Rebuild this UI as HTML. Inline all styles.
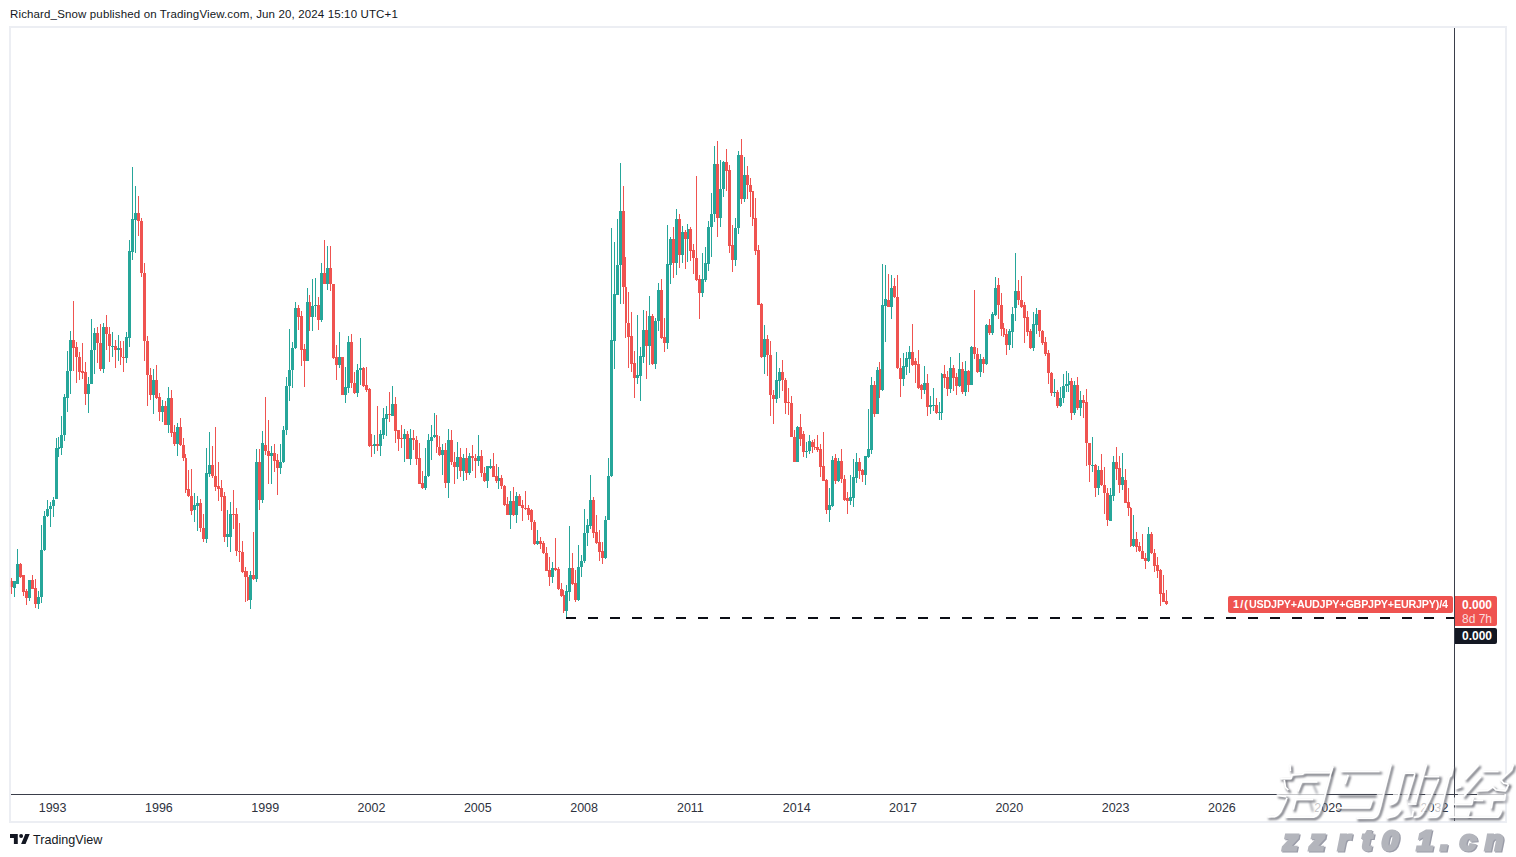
<!DOCTYPE html>
<html><head><meta charset="utf-8"><title>chart</title>
<style>
html,body{margin:0;padding:0;background:#fff;}
body{width:1516px;height:857px;position:relative;overflow:hidden;font-family:"Liberation Sans",sans-serif;color:#131722;}
#hdr{position:absolute;left:10px;top:7px;font-size:11.5px;line-height:14px;white-space:nowrap;color:#131722;letter-spacing:0.14px;}
#frame{position:absolute;left:9px;top:26px;width:1494px;height:793px;border:2px solid rgba(231,234,240,0.8);box-sizing:content-box;}
#vax{position:absolute;left:1453.5px;top:28px;width:1px;height:793px;background:#3a3e4a;}
#hax{position:absolute;left:11px;top:793.8px;width:1494px;height:1px;background:#3a3e4a;}
.yl{position:absolute;top:801px;width:40px;text-align:center;font-size:12.5px;line-height:15px;color:#2e323d;}
#chart{position:absolute;left:0;top:0;}
#tv{position:absolute;left:33px;top:832px;font-size:12.6px;line-height:16px;color:#131722;}
.lab{position:absolute;color:#fff;font-size:11px;line-height:13px;white-space:nowrap;}
</style></head><body>
<div id="hdr">Richard_Snow published on TradingView.com, Jun 20, 2024 15:10 UTC+1</div>
<svg id="chart" width="1516" height="857" viewBox="0 0 1516 857" shape-rendering="crispEdges">
<g style="filter:blur(0.3px)"><rect x="11.00" y="578.2" width="1" height="15.6" fill="#ef5350"/>
<rect x="14.00" y="581.9" width="1" height="14.7" fill="#26a69a"/>
<rect x="17.00" y="549.2" width="1" height="34.8" fill="#26a69a"/>
<rect x="20.00" y="562.9" width="1" height="14.8" fill="#ef5350"/>
<rect x="23.00" y="574.5" width="1" height="21.1" fill="#ef5350"/>
<rect x="26.00" y="589.3" width="1" height="15.4" fill="#ef5350"/>
<rect x="29.00" y="579.8" width="1" height="21.5" fill="#26a69a"/>
<rect x="32.00" y="574.9" width="1" height="14.4" fill="#ef5350"/>
<rect x="35.00" y="579.3" width="1" height="28.3" fill="#ef5350"/>
<rect x="38.00" y="591.4" width="1" height="17.3" fill="#26a69a"/>
<rect x="41.00" y="525.3" width="1" height="77.7" fill="#26a69a"/>
<rect x="44.00" y="511.2" width="1" height="40.1" fill="#26a69a"/>
<rect x="47.00" y="500.2" width="1" height="16.7" fill="#26a69a"/>
<rect x="50.00" y="501.7" width="1" height="24.9" fill="#26a69a"/>
<rect x="53.00" y="497.0" width="1" height="19.9" fill="#26a69a"/>
<rect x="56.00" y="438.3" width="1" height="60.2" fill="#26a69a"/>
<rect x="58.00" y="437.2" width="1" height="20.1" fill="#26a69a"/>
<rect x="61.00" y="416.1" width="1" height="39.0" fill="#26a69a"/>
<rect x="64.00" y="394.4" width="1" height="47.0" fill="#26a69a"/>
<rect x="67.00" y="350.7" width="1" height="61.2" fill="#26a69a"/>
<rect x="70.00" y="331.2" width="1" height="62.7" fill="#26a69a"/>
<rect x="73.00" y="301.0" width="1" height="69.7" fill="#ef5350"/>
<rect x="76.00" y="342.2" width="1" height="40.5" fill="#ef5350"/>
<rect x="79.00" y="351.7" width="1" height="28.5" fill="#ef5350"/>
<rect x="82.00" y="343.3" width="1" height="35.9" fill="#ef5350"/>
<rect x="85.00" y="362.3" width="1" height="42.6" fill="#ef5350"/>
<rect x="88.00" y="377.0" width="1" height="35.9" fill="#26a69a"/>
<rect x="91.00" y="319.0" width="1" height="65.4" fill="#26a69a"/>
<rect x="94.00" y="327.9" width="1" height="46.0" fill="#26a69a"/>
<rect x="97.00" y="327.0" width="1" height="35.7" fill="#ef5350"/>
<rect x="100.00" y="324.3" width="1" height="46.4" fill="#ef5350"/>
<rect x="103.00" y="322.8" width="1" height="50.0" fill="#26a69a"/>
<rect x="106.00" y="314.8" width="1" height="34.8" fill="#ef5350"/>
<rect x="109.00" y="327.0" width="1" height="34.8" fill="#ef5350"/>
<rect x="112.00" y="332.1" width="1" height="24.5" fill="#26a69a"/>
<rect x="115.00" y="340.1" width="1" height="27.9" fill="#ef5350"/>
<rect x="118.00" y="334.8" width="1" height="26.4" fill="#26a69a"/>
<rect x="120.00" y="341.2" width="1" height="23.8" fill="#ef5350"/>
<rect x="123.00" y="341.2" width="1" height="30.6" fill="#ef5350"/>
<rect x="126.00" y="332.1" width="1" height="30.8" fill="#26a69a"/>
<rect x="129.00" y="239.8" width="1" height="107.1" fill="#26a69a"/>
<rect x="132.00" y="166.9" width="1" height="92.9" fill="#26a69a"/>
<rect x="135.00" y="185.9" width="1" height="66.9" fill="#26a69a"/>
<rect x="138.00" y="196.1" width="1" height="39.4" fill="#ef5350"/>
<rect x="141.00" y="218.2" width="1" height="58.5" fill="#ef5350"/>
<rect x="144.00" y="263.0" width="1" height="98.2" fill="#ef5350"/>
<rect x="147.00" y="335.9" width="1" height="70.1" fill="#ef5350"/>
<rect x="150.00" y="368.0" width="1" height="32.3" fill="#ef5350"/>
<rect x="153.00" y="369.2" width="1" height="44.8" fill="#26a69a"/>
<rect x="156.00" y="365.0" width="1" height="34.2" fill="#ef5350"/>
<rect x="159.00" y="392.9" width="1" height="27.8" fill="#ef5350"/>
<rect x="162.00" y="400.3" width="1" height="22.1" fill="#26a69a"/>
<rect x="165.00" y="400.9" width="1" height="24.1" fill="#ef5350"/>
<rect x="168.00" y="387.0" width="1" height="46.0" fill="#26a69a"/>
<rect x="171.00" y="390.3" width="1" height="46.9" fill="#ef5350"/>
<rect x="174.00" y="425.0" width="1" height="21.1" fill="#ef5350"/>
<rect x="177.00" y="423.1" width="1" height="32.7" fill="#26a69a"/>
<rect x="180.00" y="418.2" width="1" height="27.9" fill="#ef5350"/>
<rect x="183.00" y="438.3" width="1" height="22.5" fill="#ef5350"/>
<rect x="185.00" y="454.1" width="1" height="39.1" fill="#ef5350"/>
<rect x="188.00" y="470.0" width="1" height="27.4" fill="#ef5350"/>
<rect x="191.00" y="468.9" width="1" height="46.5" fill="#ef5350"/>
<rect x="194.00" y="493.2" width="1" height="28.5" fill="#26a69a"/>
<rect x="197.00" y="496.4" width="1" height="34.8" fill="#26a69a"/>
<rect x="200.00" y="498.5" width="1" height="33.8" fill="#ef5350"/>
<rect x="203.00" y="514.3" width="1" height="27.5" fill="#ef5350"/>
<rect x="206.00" y="447.8" width="1" height="95.0" fill="#26a69a"/>
<rect x="209.00" y="431.9" width="1" height="45.5" fill="#26a69a"/>
<rect x="212.00" y="445.6" width="1" height="32.8" fill="#ef5350"/>
<rect x="215.00" y="427.1" width="1" height="64.0" fill="#ef5350"/>
<rect x="218.00" y="461.5" width="1" height="39.1" fill="#ef5350"/>
<rect x="221.00" y="479.5" width="1" height="31.7" fill="#ef5350"/>
<rect x="224.00" y="492.2" width="1" height="49.6" fill="#ef5350"/>
<rect x="227.00" y="510.1" width="1" height="36.9" fill="#26a69a"/>
<rect x="230.00" y="501.7" width="1" height="50.6" fill="#26a69a"/>
<rect x="233.00" y="490.1" width="1" height="39.0" fill="#ef5350"/>
<rect x="236.00" y="508.0" width="1" height="47.5" fill="#ef5350"/>
<rect x="239.00" y="522.8" width="1" height="39.0" fill="#ef5350"/>
<rect x="242.00" y="541.3" width="1" height="32.1" fill="#ef5350"/>
<rect x="245.00" y="567.1" width="1" height="34.8" fill="#ef5350"/>
<rect x="247.00" y="571.3" width="1" height="29.6" fill="#ef5350"/>
<rect x="250.00" y="571.3" width="1" height="37.4" fill="#26a69a"/>
<rect x="253.00" y="531.8" width="1" height="48.0" fill="#ef5350"/>
<rect x="256.00" y="448.8" width="1" height="133.1" fill="#26a69a"/>
<rect x="259.00" y="449.2" width="1" height="60.5" fill="#ef5350"/>
<rect x="262.00" y="430.9" width="1" height="71.8" fill="#26a69a"/>
<rect x="265.00" y="397.1" width="1" height="58.0" fill="#ef5350"/>
<rect x="268.00" y="419.9" width="1" height="63.8" fill="#ef5350"/>
<rect x="271.00" y="445.6" width="1" height="38.1" fill="#26a69a"/>
<rect x="274.00" y="444.0" width="1" height="28.1" fill="#ef5350"/>
<rect x="277.00" y="454.1" width="1" height="40.8" fill="#ef5350"/>
<rect x="280.00" y="444.2" width="1" height="29.3" fill="#26a69a"/>
<rect x="283.00" y="426.2" width="1" height="36.3" fill="#26a69a"/>
<rect x="286.00" y="377.0" width="1" height="58.1" fill="#26a69a"/>
<rect x="289.00" y="329.1" width="1" height="72.2" fill="#26a69a"/>
<rect x="292.00" y="342.2" width="1" height="45.4" fill="#26a69a"/>
<rect x="295.00" y="302.1" width="1" height="46.4" fill="#26a69a"/>
<rect x="298.00" y="305.3" width="1" height="24.3" fill="#ef5350"/>
<rect x="301.00" y="310.8" width="1" height="54.9" fill="#ef5350"/>
<rect x="304.00" y="343.5" width="1" height="43.0" fill="#ef5350"/>
<rect x="307.00" y="288.2" width="1" height="72.6" fill="#26a69a"/>
<rect x="309.00" y="295.4" width="1" height="35.5" fill="#ef5350"/>
<rect x="312.00" y="279.2" width="1" height="51.7" fill="#26a69a"/>
<rect x="315.00" y="278.1" width="1" height="39.1" fill="#26a69a"/>
<rect x="318.00" y="297.1" width="1" height="32.7" fill="#ef5350"/>
<rect x="321.00" y="262.9" width="1" height="59.1" fill="#26a69a"/>
<rect x="324.00" y="240.1" width="1" height="44.3" fill="#ef5350"/>
<rect x="327.00" y="246.0" width="1" height="43.7" fill="#26a69a"/>
<rect x="330.00" y="246.0" width="1" height="44.8" fill="#ef5350"/>
<rect x="333.00" y="284.0" width="1" height="75.4" fill="#ef5350"/>
<rect x="336.00" y="345.2" width="1" height="34.9" fill="#ef5350"/>
<rect x="339.00" y="331.9" width="1" height="35.9" fill="#26a69a"/>
<rect x="342.00" y="356.9" width="1" height="37.6" fill="#ef5350"/>
<rect x="345.00" y="367.4" width="1" height="35.9" fill="#26a69a"/>
<rect x="348.00" y="336.1" width="1" height="56.7" fill="#26a69a"/>
<rect x="351.00" y="334.0" width="1" height="53.5" fill="#ef5350"/>
<rect x="354.00" y="371.7" width="1" height="22.1" fill="#ef5350"/>
<rect x="357.00" y="364.3" width="1" height="32.3" fill="#26a69a"/>
<rect x="360.00" y="338.3" width="1" height="47.1" fill="#26a69a"/>
<rect x="363.00" y="367.0" width="1" height="19.9" fill="#ef5350"/>
<rect x="366.00" y="367.0" width="1" height="24.7" fill="#ef5350"/>
<rect x="369.00" y="387.5" width="1" height="59.1" fill="#ef5350"/>
<rect x="371.00" y="433.9" width="1" height="22.6" fill="#ef5350"/>
<rect x="374.00" y="435.0" width="1" height="19.0" fill="#26a69a"/>
<rect x="377.00" y="406.1" width="1" height="44.7" fill="#ef5350"/>
<rect x="380.00" y="429.7" width="1" height="26.0" fill="#26a69a"/>
<rect x="383.00" y="408.0" width="1" height="30.8" fill="#26a69a"/>
<rect x="386.00" y="406.1" width="1" height="29.9" fill="#26a69a"/>
<rect x="389.00" y="392.3" width="1" height="29.6" fill="#ef5350"/>
<rect x="392.00" y="386.0" width="1" height="30.4" fill="#26a69a"/>
<rect x="395.00" y="397.0" width="1" height="45.8" fill="#ef5350"/>
<rect x="398.00" y="429.7" width="1" height="21.1" fill="#ef5350"/>
<rect x="401.00" y="425.1" width="1" height="22.6" fill="#ef5350"/>
<rect x="404.00" y="429.3" width="1" height="32.5" fill="#26a69a"/>
<rect x="407.00" y="431.4" width="1" height="27.9" fill="#ef5350"/>
<rect x="410.00" y="429.3" width="1" height="35.2" fill="#26a69a"/>
<rect x="413.00" y="430.1" width="1" height="19.7" fill="#ef5350"/>
<rect x="416.00" y="436.0" width="1" height="28.5" fill="#ef5350"/>
<rect x="419.00" y="442.8" width="1" height="41.2" fill="#ef5350"/>
<rect x="422.00" y="471.3" width="1" height="17.5" fill="#ef5350"/>
<rect x="425.00" y="447.7" width="1" height="42.2" fill="#26a69a"/>
<rect x="428.00" y="433.9" width="1" height="43.3" fill="#26a69a"/>
<rect x="431.00" y="425.1" width="1" height="34.8" fill="#26a69a"/>
<rect x="434.00" y="413.2" width="1" height="25.0" fill="#26a69a"/>
<rect x="436.00" y="414.9" width="1" height="38.0" fill="#ef5350"/>
<rect x="439.00" y="436.0" width="1" height="19.7" fill="#ef5350"/>
<rect x="442.00" y="444.1" width="1" height="31.0" fill="#26a69a"/>
<rect x="445.00" y="443.4" width="1" height="44.4" fill="#ef5350"/>
<rect x="448.00" y="429.3" width="1" height="68.4" fill="#26a69a"/>
<rect x="451.00" y="430.3" width="1" height="34.2" fill="#ef5350"/>
<rect x="454.00" y="451.9" width="1" height="32.1" fill="#ef5350"/>
<rect x="457.00" y="442.0" width="1" height="37.3" fill="#26a69a"/>
<rect x="460.00" y="448.3" width="1" height="28.9" fill="#ef5350"/>
<rect x="463.00" y="454.0" width="1" height="27.4" fill="#26a69a"/>
<rect x="466.00" y="448.3" width="1" height="32.1" fill="#ef5350"/>
<rect x="469.00" y="452.9" width="1" height="21.8" fill="#26a69a"/>
<rect x="472.00" y="445.1" width="1" height="26.2" fill="#ef5350"/>
<rect x="475.00" y="454.0" width="1" height="23.6" fill="#ef5350"/>
<rect x="478.00" y="435.0" width="1" height="31.2" fill="#26a69a"/>
<rect x="481.00" y="449.8" width="1" height="27.4" fill="#ef5350"/>
<rect x="484.00" y="466.6" width="1" height="15.2" fill="#ef5350"/>
<rect x="487.00" y="465.6" width="1" height="22.2" fill="#26a69a"/>
<rect x="490.00" y="459.3" width="1" height="9.9" fill="#26a69a"/>
<rect x="493.00" y="452.9" width="1" height="24.3" fill="#ef5350"/>
<rect x="496.00" y="463.5" width="1" height="19.0" fill="#ef5350"/>
<rect x="498.00" y="466.6" width="1" height="22.2" fill="#26a69a"/>
<rect x="501.00" y="475.3" width="1" height="13.3" fill="#ef5350"/>
<rect x="504.00" y="484.8" width="1" height="21.1" fill="#ef5350"/>
<rect x="507.00" y="497.4" width="1" height="18.0" fill="#ef5350"/>
<rect x="510.00" y="491.1" width="1" height="37.6" fill="#26a69a"/>
<rect x="513.00" y="486.9" width="1" height="29.5" fill="#ef5350"/>
<rect x="516.00" y="492.2" width="1" height="30.6" fill="#26a69a"/>
<rect x="519.00" y="494.3" width="1" height="12.0" fill="#ef5350"/>
<rect x="522.00" y="499.6" width="1" height="21.1" fill="#ef5350"/>
<rect x="525.00" y="491.1" width="1" height="19.0" fill="#ef5350"/>
<rect x="528.00" y="504.8" width="1" height="14.8" fill="#ef5350"/>
<rect x="531.00" y="509.1" width="1" height="21.1" fill="#ef5350"/>
<rect x="534.00" y="519.6" width="1" height="25.3" fill="#ef5350"/>
<rect x="537.00" y="530.2" width="1" height="14.7" fill="#26a69a"/>
<rect x="540.00" y="537.1" width="1" height="11.4" fill="#ef5350"/>
<rect x="543.00" y="540.7" width="1" height="13.3" fill="#ef5350"/>
<rect x="546.00" y="547.0" width="1" height="24.3" fill="#ef5350"/>
<rect x="549.00" y="556.5" width="1" height="29.2" fill="#ef5350"/>
<rect x="552.00" y="562.2" width="1" height="20.7" fill="#26a69a"/>
<rect x="555.00" y="538.0" width="1" height="33.3" fill="#ef5350"/>
<rect x="558.00" y="567.1" width="1" height="22.8" fill="#ef5350"/>
<rect x="561.00" y="582.9" width="1" height="13.7" fill="#ef5350"/>
<rect x="563.00" y="590.3" width="1" height="22.8" fill="#ef5350"/>
<rect x="566.00" y="585.0" width="1" height="32.8" fill="#26a69a"/>
<rect x="569.00" y="525.9" width="1" height="75.0" fill="#26a69a"/>
<rect x="572.00" y="553.0" width="1" height="32.0" fill="#ef5350"/>
<rect x="575.00" y="570.3" width="1" height="31.6" fill="#ef5350"/>
<rect x="578.00" y="544.9" width="1" height="56.0" fill="#26a69a"/>
<rect x="581.00" y="555.1" width="1" height="21.5" fill="#26a69a"/>
<rect x="584.00" y="509.1" width="1" height="53.8" fill="#26a69a"/>
<rect x="587.00" y="519.2" width="1" height="26.4" fill="#26a69a"/>
<rect x="590.00" y="475.3" width="1" height="53.8" fill="#26a69a"/>
<rect x="593.00" y="497.0" width="1" height="41.0" fill="#ef5350"/>
<rect x="596.00" y="515.4" width="1" height="28.1" fill="#ef5350"/>
<rect x="599.00" y="530.2" width="1" height="30.6" fill="#ef5350"/>
<rect x="602.00" y="541.8" width="1" height="22.1" fill="#ef5350"/>
<rect x="605.00" y="516.0" width="1" height="42.7" fill="#26a69a"/>
<rect x="608.00" y="458.3" width="1" height="61.9" fill="#26a69a"/>
<rect x="611.00" y="228.0" width="1" height="249.3" fill="#26a69a"/>
<rect x="614.00" y="242.2" width="1" height="126.5" fill="#26a69a"/>
<rect x="617.00" y="219.0" width="1" height="75.6" fill="#26a69a"/>
<rect x="620.00" y="162.7" width="1" height="141.0" fill="#26a69a"/>
<rect x="623.00" y="185.9" width="1" height="117.8" fill="#ef5350"/>
<rect x="625.00" y="257.0" width="1" height="80.8" fill="#ef5350"/>
<rect x="628.00" y="292.1" width="1" height="75.5" fill="#ef5350"/>
<rect x="631.00" y="312.2" width="1" height="59.6" fill="#ef5350"/>
<rect x="634.00" y="351.2" width="1" height="46.5" fill="#ef5350"/>
<rect x="637.00" y="315.0" width="1" height="69.4" fill="#26a69a"/>
<rect x="640.00" y="347.0" width="1" height="53.7" fill="#26a69a"/>
<rect x="643.00" y="310.1" width="1" height="52.7" fill="#26a69a"/>
<rect x="646.00" y="311.1" width="1" height="67.6" fill="#ef5350"/>
<rect x="649.00" y="296.0" width="1" height="69.0" fill="#26a69a"/>
<rect x="652.00" y="314.0" width="1" height="51.0" fill="#ef5350"/>
<rect x="655.00" y="318.0" width="1" height="50.7" fill="#26a69a"/>
<rect x="658.00" y="283.2" width="1" height="47.7" fill="#26a69a"/>
<rect x="661.00" y="279.0" width="1" height="59.6" fill="#ef5350"/>
<rect x="664.00" y="318.2" width="1" height="33.6" fill="#ef5350"/>
<rect x="667.00" y="225.0" width="1" height="124.1" fill="#26a69a"/>
<rect x="670.00" y="236.6" width="1" height="47.5" fill="#26a69a"/>
<rect x="673.00" y="227.1" width="1" height="50.7" fill="#ef5350"/>
<rect x="676.00" y="209.2" width="1" height="66.0" fill="#26a69a"/>
<rect x="679.00" y="214.0" width="1" height="54.3" fill="#ef5350"/>
<rect x="682.00" y="226.0" width="1" height="37.0" fill="#26a69a"/>
<rect x="685.00" y="230.3" width="1" height="38.6" fill="#ef5350"/>
<rect x="687.00" y="223.9" width="1" height="38.0" fill="#26a69a"/>
<rect x="690.00" y="227.1" width="1" height="33.8" fill="#ef5350"/>
<rect x="693.00" y="244.0" width="1" height="29.5" fill="#ef5350"/>
<rect x="696.00" y="176.0" width="1" height="104.9" fill="#ef5350"/>
<rect x="699.00" y="274.6" width="1" height="44.2" fill="#ef5350"/>
<rect x="702.00" y="253.1" width="1" height="43.8" fill="#26a69a"/>
<rect x="705.00" y="247.2" width="1" height="34.8" fill="#26a69a"/>
<rect x="708.00" y="221.2" width="1" height="50.2" fill="#26a69a"/>
<rect x="711.00" y="192.9" width="1" height="63.7" fill="#26a69a"/>
<rect x="714.00" y="145.8" width="1" height="76.0" fill="#26a69a"/>
<rect x="717.00" y="141.0" width="1" height="95.6" fill="#ef5350"/>
<rect x="720.00" y="160.0" width="1" height="67.1" fill="#26a69a"/>
<rect x="723.00" y="161.0" width="1" height="36.1" fill="#26a69a"/>
<rect x="726.00" y="149.0" width="1" height="42.2" fill="#ef5350"/>
<rect x="729.00" y="164.8" width="1" height="88.0" fill="#ef5350"/>
<rect x="732.00" y="225.0" width="1" height="46.8" fill="#ef5350"/>
<rect x="735.00" y="218.2" width="1" height="47.9" fill="#26a69a"/>
<rect x="738.00" y="150.7" width="1" height="83.2" fill="#26a69a"/>
<rect x="741.00" y="138.9" width="1" height="64.6" fill="#ef5350"/>
<rect x="744.00" y="157.0" width="1" height="44.8" fill="#26a69a"/>
<rect x="747.00" y="165.9" width="1" height="33.3" fill="#ef5350"/>
<rect x="750.00" y="178.1" width="1" height="38.4" fill="#ef5350"/>
<rect x="752.00" y="190.8" width="1" height="35.2" fill="#ef5350"/>
<rect x="755.00" y="198.0" width="1" height="56.5" fill="#ef5350"/>
<rect x="758.00" y="245.0" width="1" height="60.3" fill="#ef5350"/>
<rect x="761.00" y="302.5" width="1" height="55.5" fill="#ef5350"/>
<rect x="764.00" y="325.3" width="1" height="48.6" fill="#26a69a"/>
<rect x="767.00" y="334.8" width="1" height="41.2" fill="#ef5350"/>
<rect x="770.00" y="341.2" width="1" height="74.5" fill="#ef5350"/>
<rect x="773.00" y="390.3" width="1" height="33.2" fill="#ef5350"/>
<rect x="776.00" y="352.3" width="1" height="51.1" fill="#26a69a"/>
<rect x="779.00" y="368.0" width="1" height="30.2" fill="#26a69a"/>
<rect x="782.00" y="360.2" width="1" height="30.6" fill="#ef5350"/>
<rect x="785.00" y="378.1" width="1" height="35.7" fill="#ef5350"/>
<rect x="788.00" y="388.0" width="1" height="26.8" fill="#ef5350"/>
<rect x="791.00" y="395.8" width="1" height="41.6" fill="#ef5350"/>
<rect x="794.00" y="429.6" width="1" height="32.1" fill="#ef5350"/>
<rect x="797.00" y="426.0" width="1" height="35.7" fill="#26a69a"/>
<rect x="800.00" y="413.8" width="1" height="32.1" fill="#ef5350"/>
<rect x="803.00" y="430.7" width="1" height="26.3" fill="#ef5350"/>
<rect x="806.00" y="441.6" width="1" height="16.5" fill="#26a69a"/>
<rect x="809.00" y="434.9" width="1" height="19.0" fill="#26a69a"/>
<rect x="812.00" y="439.7" width="1" height="13.1" fill="#ef5350"/>
<rect x="814.00" y="439.1" width="1" height="11.2" fill="#ef5350"/>
<rect x="817.00" y="435.3" width="1" height="16.5" fill="#ef5350"/>
<rect x="820.00" y="444.4" width="1" height="32.7" fill="#ef5350"/>
<rect x="823.00" y="431.7" width="1" height="49.2" fill="#ef5350"/>
<rect x="826.00" y="478.8" width="1" height="35.2" fill="#ef5350"/>
<rect x="829.00" y="488.1" width="1" height="33.7" fill="#26a69a"/>
<rect x="832.00" y="456.0" width="1" height="50.6" fill="#26a69a"/>
<rect x="835.00" y="453.9" width="1" height="30.0" fill="#ef5350"/>
<rect x="838.00" y="458.1" width="1" height="24.3" fill="#26a69a"/>
<rect x="841.00" y="448.6" width="1" height="34.4" fill="#ef5350"/>
<rect x="844.00" y="475.0" width="1" height="25.7" fill="#ef5350"/>
<rect x="847.00" y="491.9" width="1" height="22.1" fill="#ef5350"/>
<rect x="850.00" y="475.4" width="1" height="29.1" fill="#26a69a"/>
<rect x="853.00" y="459.2" width="1" height="47.4" fill="#26a69a"/>
<rect x="856.00" y="452.8" width="1" height="30.6" fill="#26a69a"/>
<rect x="859.00" y="458.1" width="1" height="21.1" fill="#ef5350"/>
<rect x="862.00" y="469.1" width="1" height="13.3" fill="#ef5350"/>
<rect x="865.00" y="456.0" width="1" height="28.9" fill="#26a69a"/>
<rect x="868.00" y="408.9" width="1" height="48.8" fill="#26a69a"/>
<rect x="871.00" y="377.2" width="1" height="76.7" fill="#26a69a"/>
<rect x="874.00" y="381.4" width="1" height="35.9" fill="#ef5350"/>
<rect x="877.00" y="367.3" width="1" height="46.8" fill="#26a69a"/>
<rect x="879.00" y="362.4" width="1" height="35.9" fill="#ef5350"/>
<rect x="882.00" y="264.3" width="1" height="126.6" fill="#26a69a"/>
<rect x="885.00" y="264.9" width="1" height="76.8" fill="#26a69a"/>
<rect x="888.00" y="273.8" width="1" height="33.3" fill="#ef5350"/>
<rect x="891.00" y="274.8" width="1" height="43.9" fill="#26a69a"/>
<rect x="894.00" y="278.0" width="1" height="20.0" fill="#ef5350"/>
<rect x="897.00" y="274.8" width="1" height="94.0" fill="#ef5350"/>
<rect x="900.00" y="358.2" width="1" height="38.4" fill="#ef5350"/>
<rect x="903.00" y="352.9" width="1" height="32.7" fill="#26a69a"/>
<rect x="906.00" y="351.9" width="1" height="23.2" fill="#26a69a"/>
<rect x="909.00" y="346.2" width="1" height="26.4" fill="#26a69a"/>
<rect x="912.00" y="324.0" width="1" height="41.6" fill="#ef5350"/>
<rect x="915.00" y="357.8" width="1" height="24.7" fill="#ef5350"/>
<rect x="918.00" y="350.2" width="1" height="38.6" fill="#ef5350"/>
<rect x="921.00" y="383.5" width="1" height="15.2" fill="#ef5350"/>
<rect x="924.00" y="366.2" width="1" height="27.5" fill="#26a69a"/>
<rect x="927.00" y="374.0" width="1" height="41.6" fill="#ef5350"/>
<rect x="930.00" y="396.2" width="1" height="17.9" fill="#26a69a"/>
<rect x="933.00" y="388.4" width="1" height="22.6" fill="#26a69a"/>
<rect x="936.00" y="397.9" width="1" height="16.2" fill="#ef5350"/>
<rect x="939.00" y="401.5" width="1" height="18.2" fill="#26a69a"/>
<rect x="941.00" y="373.4" width="1" height="46.3" fill="#26a69a"/>
<rect x="944.00" y="365.2" width="1" height="22.6" fill="#ef5350"/>
<rect x="947.00" y="370.9" width="1" height="24.9" fill="#ef5350"/>
<rect x="950.00" y="357.2" width="1" height="35.8" fill="#26a69a"/>
<rect x="953.00" y="364.5" width="1" height="26.4" fill="#ef5350"/>
<rect x="956.00" y="372.6" width="1" height="21.9" fill="#ef5350"/>
<rect x="959.00" y="353.4" width="1" height="33.3" fill="#26a69a"/>
<rect x="962.00" y="362.4" width="1" height="31.3" fill="#ef5350"/>
<rect x="965.00" y="361.4" width="1" height="34.4" fill="#26a69a"/>
<rect x="968.00" y="369.8" width="1" height="22.6" fill="#ef5350"/>
<rect x="971.00" y="346.2" width="1" height="39.0" fill="#26a69a"/>
<rect x="974.00" y="290.2" width="1" height="69.1" fill="#ef5350"/>
<rect x="977.00" y="348.1" width="1" height="25.3" fill="#ef5350"/>
<rect x="980.00" y="354.4" width="1" height="22.4" fill="#26a69a"/>
<rect x="983.00" y="357.2" width="1" height="16.2" fill="#ef5350"/>
<rect x="986.00" y="324.0" width="1" height="40.5" fill="#26a69a"/>
<rect x="989.00" y="319.2" width="1" height="15.4" fill="#ef5350"/>
<rect x="992.00" y="311.8" width="1" height="23.2" fill="#26a69a"/>
<rect x="995.00" y="277.4" width="1" height="38.6" fill="#26a69a"/>
<rect x="998.00" y="278.4" width="1" height="40.1" fill="#ef5350"/>
<rect x="1001.00" y="292.8" width="1" height="43.2" fill="#ef5350"/>
<rect x="1003.00" y="322.7" width="1" height="14.4" fill="#ef5350"/>
<rect x="1006.00" y="328.7" width="1" height="25.9" fill="#ef5350"/>
<rect x="1009.00" y="328.7" width="1" height="21.1" fill="#26a69a"/>
<rect x="1012.00" y="307.1" width="1" height="40.6" fill="#26a69a"/>
<rect x="1015.00" y="253.1" width="1" height="68.2" fill="#26a69a"/>
<rect x="1018.00" y="280.1" width="1" height="25.3" fill="#ef5350"/>
<rect x="1021.00" y="276.3" width="1" height="31.2" fill="#ef5350"/>
<rect x="1024.00" y="302.3" width="1" height="41.1" fill="#ef5350"/>
<rect x="1027.00" y="311.3" width="1" height="24.7" fill="#ef5350"/>
<rect x="1030.00" y="328.7" width="1" height="20.6" fill="#ef5350"/>
<rect x="1033.00" y="312.4" width="1" height="38.4" fill="#26a69a"/>
<rect x="1036.00" y="308.2" width="1" height="25.7" fill="#26a69a"/>
<rect x="1039.00" y="310.3" width="1" height="26.4" fill="#ef5350"/>
<rect x="1042.00" y="330.3" width="1" height="14.2" fill="#ef5350"/>
<rect x="1045.00" y="337.1" width="1" height="18.6" fill="#ef5350"/>
<rect x="1048.00" y="350.2" width="1" height="33.3" fill="#ef5350"/>
<rect x="1051.00" y="371.9" width="1" height="23.9" fill="#ef5350"/>
<rect x="1054.00" y="378.9" width="1" height="17.7" fill="#26a69a"/>
<rect x="1057.00" y="390.3" width="1" height="17.5" fill="#ef5350"/>
<rect x="1060.00" y="386.7" width="1" height="20.1" fill="#26a69a"/>
<rect x="1063.00" y="374.0" width="1" height="28.5" fill="#26a69a"/>
<rect x="1066.00" y="371.3" width="1" height="20.3" fill="#26a69a"/>
<rect x="1068.00" y="372.6" width="1" height="19.4" fill="#26a69a"/>
<rect x="1071.00" y="378.3" width="1" height="41.4" fill="#ef5350"/>
<rect x="1074.00" y="381.0" width="1" height="34.2" fill="#26a69a"/>
<rect x="1077.00" y="377.2" width="1" height="32.7" fill="#ef5350"/>
<rect x="1080.00" y="390.9" width="1" height="25.4" fill="#26a69a"/>
<rect x="1083.00" y="395.1" width="1" height="22.6" fill="#ef5350"/>
<rect x="1086.00" y="388.8" width="1" height="77.0" fill="#ef5350"/>
<rect x="1089.00" y="443.2" width="1" height="38.6" fill="#ef5350"/>
<rect x="1092.00" y="437.0" width="1" height="34.7" fill="#26a69a"/>
<rect x="1095.00" y="463.6" width="1" height="33.8" fill="#ef5350"/>
<rect x="1098.00" y="466.4" width="1" height="28.9" fill="#26a69a"/>
<rect x="1101.00" y="453.7" width="1" height="32.7" fill="#ef5350"/>
<rect x="1104.00" y="467.0" width="1" height="46.9" fill="#ef5350"/>
<rect x="1107.00" y="488.1" width="1" height="37.4" fill="#ef5350"/>
<rect x="1110.00" y="487.5" width="1" height="33.8" fill="#26a69a"/>
<rect x="1113.00" y="455.8" width="1" height="45.0" fill="#26a69a"/>
<rect x="1116.00" y="447.4" width="1" height="32.7" fill="#ef5350"/>
<rect x="1119.00" y="455.8" width="1" height="37.0" fill="#ef5350"/>
<rect x="1122.00" y="453.1" width="1" height="37.1" fill="#26a69a"/>
<rect x="1125.00" y="469.1" width="1" height="34.2" fill="#ef5350"/>
<rect x="1128.00" y="488.1" width="1" height="27.5" fill="#ef5350"/>
<rect x="1130.00" y="507.1" width="1" height="39.5" fill="#ef5350"/>
<rect x="1133.00" y="514.9" width="1" height="31.7" fill="#26a69a"/>
<rect x="1136.00" y="532.2" width="1" height="19.3" fill="#ef5350"/>
<rect x="1139.00" y="541.7" width="1" height="10.2" fill="#ef5350"/>
<rect x="1142.00" y="533.9" width="1" height="25.4" fill="#ef5350"/>
<rect x="1145.00" y="552.9" width="1" height="15.9" fill="#ef5350"/>
<rect x="1148.00" y="527.0" width="1" height="35.4" fill="#26a69a"/>
<rect x="1151.00" y="531.8" width="1" height="22.2" fill="#ef5350"/>
<rect x="1154.00" y="549.3" width="1" height="22.6" fill="#ef5350"/>
<rect x="1157.00" y="557.2" width="1" height="21.1" fill="#ef5350"/>
<rect x="1160.00" y="569.2" width="1" height="36.5" fill="#ef5350"/>
<rect x="1163.00" y="575.1" width="1" height="27.0" fill="#ef5350"/>
<rect x="1166.00" y="590.3" width="1" height="14.3" fill="#ef5350"/>
<rect x="10.00" y="581.1" width="3" height="5.9" fill="#ef5350"/>
<rect x="13.00" y="581.3" width="3" height="6.4" fill="#26a69a"/>
<rect x="16.00" y="563.9" width="3" height="19.9" fill="#26a69a"/>
<rect x="19.00" y="563.9" width="3" height="12.7" fill="#ef5350"/>
<rect x="22.00" y="575.1" width="3" height="16.9" fill="#ef5350"/>
<rect x="25.00" y="591.4" width="3" height="6.3" fill="#ef5350"/>
<rect x="28.00" y="580.1" width="3" height="17.6" fill="#26a69a"/>
<rect x="31.00" y="580.2" width="3" height="8.8" fill="#ef5350"/>
<rect x="34.00" y="588.2" width="3" height="15.8" fill="#ef5350"/>
<rect x="37.00" y="596.6" width="3" height="7.4" fill="#26a69a"/>
<rect x="40.00" y="549.8" width="3" height="46.8" fill="#26a69a"/>
<rect x="43.00" y="516.4" width="3" height="33.4" fill="#26a69a"/>
<rect x="46.00" y="509.1" width="3" height="7.3" fill="#26a69a"/>
<rect x="49.00" y="505.9" width="3" height="3.2" fill="#26a69a"/>
<rect x="52.00" y="500.2" width="3" height="5.7" fill="#26a69a"/>
<rect x="55.00" y="447.8" width="3" height="50.7" fill="#26a69a"/>
<rect x="58.00" y="446.7" width="2" height="2.7" fill="#26a69a"/>
<rect x="60.00" y="435.1" width="3" height="12.7" fill="#26a69a"/>
<rect x="63.00" y="397.1" width="3" height="38.0" fill="#26a69a"/>
<rect x="66.00" y="370.7" width="3" height="26.8" fill="#26a69a"/>
<rect x="69.00" y="340.1" width="3" height="30.6" fill="#26a69a"/>
<rect x="72.00" y="340.1" width="3" height="7.4" fill="#ef5350"/>
<rect x="75.00" y="346.9" width="3" height="10.5" fill="#ef5350"/>
<rect x="78.00" y="357.0" width="3" height="14.8" fill="#ef5350"/>
<rect x="81.00" y="371.3" width="3" height="1.5" fill="#ef5350"/>
<rect x="84.00" y="372.4" width="3" height="21.1" fill="#ef5350"/>
<rect x="87.00" y="384.4" width="3" height="9.1" fill="#26a69a"/>
<rect x="90.00" y="349.6" width="3" height="34.8" fill="#26a69a"/>
<rect x="93.00" y="333.1" width="3" height="16.5" fill="#26a69a"/>
<rect x="96.00" y="333.1" width="3" height="10.2" fill="#ef5350"/>
<rect x="99.00" y="343.3" width="3" height="25.9" fill="#ef5350"/>
<rect x="102.00" y="327.0" width="3" height="42.2" fill="#26a69a"/>
<rect x="105.00" y="327.0" width="3" height="7.2" fill="#ef5350"/>
<rect x="108.00" y="333.8" width="3" height="12.6" fill="#ef5350"/>
<rect x="111.00" y="345.8" width="3" height="1.1" fill="#26a69a"/>
<rect x="114.00" y="346.4" width="3" height="3.2" fill="#ef5350"/>
<rect x="117.00" y="347.5" width="3" height="2.1" fill="#26a69a"/>
<rect x="120.00" y="347.5" width="2" height="9.9" fill="#ef5350"/>
<rect x="122.00" y="357.0" width="3" height="1.3" fill="#ef5350"/>
<rect x="125.00" y="337.4" width="3" height="20.9" fill="#26a69a"/>
<rect x="128.00" y="251.4" width="3" height="86.6" fill="#26a69a"/>
<rect x="131.00" y="219.3" width="3" height="32.7" fill="#26a69a"/>
<rect x="134.00" y="213.0" width="3" height="6.7" fill="#26a69a"/>
<rect x="137.00" y="213.0" width="3" height="8.2" fill="#ef5350"/>
<rect x="140.00" y="220.8" width="3" height="52.3" fill="#ef5350"/>
<rect x="143.00" y="272.5" width="3" height="68.7" fill="#ef5350"/>
<rect x="146.00" y="341.2" width="3" height="34.2" fill="#ef5350"/>
<rect x="149.00" y="374.9" width="3" height="20.5" fill="#ef5350"/>
<rect x="152.00" y="380.2" width="3" height="15.2" fill="#26a69a"/>
<rect x="155.00" y="380.2" width="3" height="18.0" fill="#ef5350"/>
<rect x="158.00" y="397.1" width="3" height="14.4" fill="#ef5350"/>
<rect x="161.00" y="406.2" width="3" height="5.3" fill="#26a69a"/>
<rect x="164.00" y="406.2" width="3" height="18.3" fill="#ef5350"/>
<rect x="167.00" y="397.5" width="3" height="27.0" fill="#26a69a"/>
<rect x="170.00" y="397.5" width="3" height="35.1" fill="#ef5350"/>
<rect x="173.00" y="431.9" width="3" height="12.1" fill="#ef5350"/>
<rect x="176.00" y="426.6" width="3" height="17.4" fill="#26a69a"/>
<rect x="179.00" y="426.6" width="3" height="18.6" fill="#ef5350"/>
<rect x="182.00" y="444.6" width="3" height="13.7" fill="#ef5350"/>
<rect x="185.00" y="457.9" width="2" height="32.2" fill="#ef5350"/>
<rect x="187.00" y="489.0" width="3" height="7.4" fill="#ef5350"/>
<rect x="190.00" y="496.4" width="3" height="14.8" fill="#ef5350"/>
<rect x="193.00" y="504.8" width="3" height="5.3" fill="#26a69a"/>
<rect x="196.00" y="502.7" width="3" height="3.2" fill="#26a69a"/>
<rect x="199.00" y="502.7" width="3" height="25.3" fill="#ef5350"/>
<rect x="202.00" y="528.0" width="3" height="10.6" fill="#ef5350"/>
<rect x="205.00" y="473.1" width="3" height="65.5" fill="#26a69a"/>
<rect x="208.00" y="465.3" width="3" height="8.2" fill="#26a69a"/>
<rect x="211.00" y="465.3" width="3" height="11.0" fill="#ef5350"/>
<rect x="214.00" y="476.3" width="3" height="10.2" fill="#ef5350"/>
<rect x="217.00" y="485.8" width="3" height="3.2" fill="#ef5350"/>
<rect x="220.00" y="487.9" width="3" height="9.5" fill="#ef5350"/>
<rect x="223.00" y="496.4" width="3" height="40.1" fill="#ef5350"/>
<rect x="226.00" y="534.4" width="3" height="2.1" fill="#26a69a"/>
<rect x="229.00" y="514.3" width="3" height="22.2" fill="#26a69a"/>
<rect x="232.00" y="513.9" width="3" height="1.1" fill="#ef5350"/>
<rect x="235.00" y="514.3" width="3" height="37.0" fill="#ef5350"/>
<rect x="238.00" y="550.8" width="3" height="1.5" fill="#ef5350"/>
<rect x="241.00" y="551.9" width="3" height="20.5" fill="#ef5350"/>
<rect x="244.00" y="571.3" width="3" height="5.3" fill="#ef5350"/>
<rect x="247.00" y="576.6" width="2" height="23.2" fill="#ef5350"/>
<rect x="249.00" y="575.1" width="3" height="24.7" fill="#26a69a"/>
<rect x="252.00" y="575.1" width="3" height="3.6" fill="#ef5350"/>
<rect x="255.00" y="461.5" width="3" height="117.2" fill="#26a69a"/>
<rect x="258.00" y="461.5" width="3" height="38.1" fill="#ef5350"/>
<rect x="261.00" y="442.5" width="3" height="57.1" fill="#26a69a"/>
<rect x="264.00" y="445.2" width="3" height="5.7" fill="#ef5350"/>
<rect x="267.00" y="450.9" width="3" height="4.9" fill="#ef5350"/>
<rect x="270.00" y="453.0" width="3" height="2.8" fill="#26a69a"/>
<rect x="273.00" y="453.0" width="3" height="7.8" fill="#ef5350"/>
<rect x="276.00" y="460.4" width="3" height="7.4" fill="#ef5350"/>
<rect x="279.00" y="461.5" width="3" height="6.3" fill="#26a69a"/>
<rect x="282.00" y="430.4" width="3" height="31.1" fill="#26a69a"/>
<rect x="285.00" y="385.5" width="3" height="44.9" fill="#26a69a"/>
<rect x="288.00" y="370.3" width="3" height="15.2" fill="#26a69a"/>
<rect x="291.00" y="347.5" width="3" height="22.8" fill="#26a69a"/>
<rect x="294.00" y="308.0" width="3" height="39.5" fill="#26a69a"/>
<rect x="297.00" y="308.0" width="3" height="8.5" fill="#ef5350"/>
<rect x="300.00" y="315.7" width="3" height="34.2" fill="#ef5350"/>
<rect x="303.00" y="348.8" width="3" height="12.0" fill="#ef5350"/>
<rect x="306.00" y="302.4" width="3" height="58.4" fill="#26a69a"/>
<rect x="309.00" y="302.4" width="2" height="14.3" fill="#ef5350"/>
<rect x="311.00" y="305.5" width="3" height="11.2" fill="#26a69a"/>
<rect x="314.00" y="304.5" width="3" height="1.5" fill="#26a69a"/>
<rect x="317.00" y="304.5" width="3" height="15.4" fill="#ef5350"/>
<rect x="320.00" y="273.2" width="3" height="46.7" fill="#26a69a"/>
<rect x="323.00" y="273.2" width="3" height="11.2" fill="#ef5350"/>
<rect x="326.00" y="268.2" width="3" height="16.2" fill="#26a69a"/>
<rect x="329.00" y="268.2" width="3" height="16.2" fill="#ef5350"/>
<rect x="332.00" y="284.0" width="3" height="73.9" fill="#ef5350"/>
<rect x="335.00" y="357.3" width="3" height="7.8" fill="#ef5350"/>
<rect x="338.00" y="357.3" width="3" height="7.8" fill="#26a69a"/>
<rect x="341.00" y="356.9" width="3" height="37.6" fill="#ef5350"/>
<rect x="344.00" y="386.9" width="3" height="7.6" fill="#26a69a"/>
<rect x="347.00" y="342.1" width="3" height="45.4" fill="#26a69a"/>
<rect x="350.00" y="342.1" width="3" height="41.2" fill="#ef5350"/>
<rect x="353.00" y="383.3" width="3" height="9.5" fill="#ef5350"/>
<rect x="356.00" y="369.6" width="3" height="23.2" fill="#26a69a"/>
<rect x="359.00" y="368.1" width="3" height="1.9" fill="#26a69a"/>
<rect x="362.00" y="368.1" width="3" height="17.9" fill="#ef5350"/>
<rect x="365.00" y="385.4" width="3" height="4.2" fill="#ef5350"/>
<rect x="368.00" y="388.5" width="3" height="57.0" fill="#ef5350"/>
<rect x="371.00" y="444.5" width="2" height="1.7" fill="#ef5350"/>
<rect x="373.00" y="444.1" width="3" height="2.1" fill="#26a69a"/>
<rect x="376.00" y="444.1" width="3" height="1.4" fill="#ef5350"/>
<rect x="379.00" y="434.4" width="3" height="11.1" fill="#26a69a"/>
<rect x="382.00" y="418.1" width="3" height="16.9" fill="#26a69a"/>
<rect x="385.00" y="413.9" width="3" height="4.6" fill="#26a69a"/>
<rect x="388.00" y="413.9" width="3" height="1.2" fill="#ef5350"/>
<rect x="391.00" y="404.4" width="3" height="11.2" fill="#26a69a"/>
<rect x="394.00" y="404.4" width="3" height="26.4" fill="#ef5350"/>
<rect x="397.00" y="430.3" width="3" height="8.5" fill="#ef5350"/>
<rect x="400.00" y="437.5" width="3" height="1.3" fill="#ef5350"/>
<rect x="403.00" y="434.4" width="3" height="4.4" fill="#26a69a"/>
<rect x="406.00" y="434.4" width="3" height="24.2" fill="#ef5350"/>
<rect x="409.00" y="438.2" width="3" height="20.4" fill="#26a69a"/>
<rect x="412.00" y="438.2" width="3" height="2.1" fill="#ef5350"/>
<rect x="415.00" y="439.6" width="3" height="19.0" fill="#ef5350"/>
<rect x="418.00" y="458.2" width="3" height="25.3" fill="#ef5350"/>
<rect x="421.00" y="482.5" width="3" height="5.3" fill="#ef5350"/>
<rect x="424.00" y="475.5" width="3" height="12.3" fill="#26a69a"/>
<rect x="427.00" y="440.3" width="3" height="35.8" fill="#26a69a"/>
<rect x="430.00" y="436.7" width="3" height="4.0" fill="#26a69a"/>
<rect x="433.00" y="434.6" width="3" height="2.5" fill="#26a69a"/>
<rect x="436.00" y="434.6" width="2" height="12.0" fill="#ef5350"/>
<rect x="438.00" y="446.6" width="3" height="8.4" fill="#ef5350"/>
<rect x="441.00" y="450.2" width="3" height="4.8" fill="#26a69a"/>
<rect x="444.00" y="450.2" width="3" height="32.3" fill="#ef5350"/>
<rect x="447.00" y="440.3" width="3" height="42.2" fill="#26a69a"/>
<rect x="450.00" y="440.3" width="3" height="22.1" fill="#ef5350"/>
<rect x="453.00" y="461.8" width="3" height="4.8" fill="#ef5350"/>
<rect x="456.00" y="456.5" width="3" height="10.1" fill="#26a69a"/>
<rect x="459.00" y="456.5" width="3" height="14.8" fill="#ef5350"/>
<rect x="462.00" y="457.6" width="3" height="13.7" fill="#26a69a"/>
<rect x="465.00" y="457.6" width="3" height="15.0" fill="#ef5350"/>
<rect x="468.00" y="456.1" width="3" height="16.5" fill="#26a69a"/>
<rect x="471.00" y="456.1" width="3" height="2.1" fill="#ef5350"/>
<rect x="474.00" y="457.8" width="3" height="3.6" fill="#ef5350"/>
<rect x="477.00" y="455.5" width="3" height="5.9" fill="#26a69a"/>
<rect x="480.00" y="455.5" width="3" height="17.9" fill="#ef5350"/>
<rect x="483.00" y="473.0" width="3" height="8.0" fill="#ef5350"/>
<rect x="486.00" y="466.0" width="3" height="15.0" fill="#26a69a"/>
<rect x="489.00" y="465.6" width="3" height="2.5" fill="#26a69a"/>
<rect x="492.00" y="465.6" width="3" height="11.0" fill="#ef5350"/>
<rect x="495.00" y="476.1" width="3" height="4.9" fill="#ef5350"/>
<rect x="498.00" y="478.3" width="2" height="2.7" fill="#26a69a"/>
<rect x="500.00" y="478.0" width="3" height="7.8" fill="#ef5350"/>
<rect x="503.00" y="485.8" width="3" height="19.0" fill="#ef5350"/>
<rect x="506.00" y="504.4" width="3" height="10.3" fill="#ef5350"/>
<rect x="509.00" y="501.2" width="3" height="13.5" fill="#26a69a"/>
<rect x="512.00" y="501.2" width="3" height="14.2" fill="#ef5350"/>
<rect x="515.00" y="496.4" width="3" height="19.0" fill="#26a69a"/>
<rect x="518.00" y="496.4" width="3" height="9.1" fill="#ef5350"/>
<rect x="521.00" y="504.8" width="3" height="3.2" fill="#ef5350"/>
<rect x="524.00" y="507.6" width="3" height="1.5" fill="#ef5350"/>
<rect x="527.00" y="508.4" width="3" height="6.3" fill="#ef5350"/>
<rect x="530.00" y="510.1" width="3" height="12.2" fill="#ef5350"/>
<rect x="533.00" y="521.7" width="3" height="22.6" fill="#ef5350"/>
<rect x="536.00" y="540.7" width="3" height="3.6" fill="#26a69a"/>
<rect x="539.00" y="540.7" width="3" height="2.8" fill="#ef5350"/>
<rect x="542.00" y="542.8" width="3" height="10.6" fill="#ef5350"/>
<rect x="545.00" y="553.0" width="3" height="17.9" fill="#ef5350"/>
<rect x="548.00" y="570.3" width="3" height="6.3" fill="#ef5350"/>
<rect x="551.00" y="568.2" width="3" height="8.4" fill="#26a69a"/>
<rect x="554.00" y="568.2" width="3" height="1.4" fill="#ef5350"/>
<rect x="557.00" y="568.8" width="3" height="20.5" fill="#ef5350"/>
<rect x="560.00" y="588.6" width="3" height="7.0" fill="#ef5350"/>
<rect x="563.00" y="594.5" width="2" height="16.5" fill="#ef5350"/>
<rect x="565.00" y="591.4" width="3" height="19.6" fill="#26a69a"/>
<rect x="568.00" y="568.2" width="3" height="23.6" fill="#26a69a"/>
<rect x="571.00" y="568.2" width="3" height="15.8" fill="#ef5350"/>
<rect x="574.00" y="583.4" width="3" height="16.4" fill="#ef5350"/>
<rect x="577.00" y="567.1" width="3" height="32.7" fill="#26a69a"/>
<rect x="580.00" y="560.8" width="3" height="6.3" fill="#26a69a"/>
<rect x="583.00" y="532.9" width="3" height="28.3" fill="#26a69a"/>
<rect x="586.00" y="525.3" width="3" height="8.0" fill="#26a69a"/>
<rect x="589.00" y="500.2" width="3" height="25.5" fill="#26a69a"/>
<rect x="592.00" y="500.2" width="3" height="32.5" fill="#ef5350"/>
<rect x="595.00" y="532.3" width="3" height="10.5" fill="#ef5350"/>
<rect x="598.00" y="542.2" width="3" height="9.7" fill="#ef5350"/>
<rect x="601.00" y="551.3" width="3" height="6.3" fill="#ef5350"/>
<rect x="604.00" y="519.6" width="3" height="38.0" fill="#26a69a"/>
<rect x="607.00" y="476.3" width="3" height="43.3" fill="#26a69a"/>
<rect x="610.00" y="340.2" width="3" height="136.1" fill="#26a69a"/>
<rect x="613.00" y="294.2" width="3" height="46.5" fill="#26a69a"/>
<rect x="616.00" y="265.2" width="3" height="29.4" fill="#26a69a"/>
<rect x="619.00" y="211.1" width="3" height="54.3" fill="#26a69a"/>
<rect x="622.00" y="211.1" width="3" height="76.3" fill="#ef5350"/>
<rect x="625.00" y="287.2" width="2" height="36.1" fill="#ef5350"/>
<rect x="627.00" y="323.1" width="3" height="13.4" fill="#ef5350"/>
<rect x="630.00" y="336.3" width="3" height="27.6" fill="#ef5350"/>
<rect x="633.00" y="363.4" width="3" height="14.3" fill="#ef5350"/>
<rect x="636.00" y="374.9" width="3" height="2.8" fill="#26a69a"/>
<rect x="639.00" y="356.0" width="3" height="19.6" fill="#26a69a"/>
<rect x="642.00" y="330.1" width="3" height="26.4" fill="#26a69a"/>
<rect x="645.00" y="330.1" width="3" height="15.9" fill="#ef5350"/>
<rect x="648.00" y="316.1" width="3" height="29.9" fill="#26a69a"/>
<rect x="651.00" y="316.1" width="3" height="48.3" fill="#ef5350"/>
<rect x="654.00" y="321.2" width="3" height="42.7" fill="#26a69a"/>
<rect x="657.00" y="290.2" width="3" height="31.2" fill="#26a69a"/>
<rect x="660.00" y="290.2" width="3" height="47.8" fill="#ef5350"/>
<rect x="663.00" y="337.3" width="3" height="5.5" fill="#ef5350"/>
<rect x="666.00" y="264.0" width="3" height="78.8" fill="#26a69a"/>
<rect x="669.00" y="238.7" width="3" height="26.0" fill="#26a69a"/>
<rect x="672.00" y="238.7" width="3" height="24.3" fill="#ef5350"/>
<rect x="675.00" y="219.1" width="3" height="43.9" fill="#26a69a"/>
<rect x="678.00" y="219.1" width="3" height="35.9" fill="#ef5350"/>
<rect x="681.00" y="232.0" width="3" height="23.0" fill="#26a69a"/>
<rect x="684.00" y="232.0" width="3" height="6.7" fill="#ef5350"/>
<rect x="687.00" y="229.2" width="2" height="9.5" fill="#26a69a"/>
<rect x="689.00" y="229.2" width="3" height="21.5" fill="#ef5350"/>
<rect x="692.00" y="250.3" width="3" height="8.0" fill="#ef5350"/>
<rect x="695.00" y="257.7" width="3" height="22.2" fill="#ef5350"/>
<rect x="698.00" y="279.4" width="3" height="13.3" fill="#ef5350"/>
<rect x="701.00" y="279.4" width="3" height="13.3" fill="#26a69a"/>
<rect x="704.00" y="263.4" width="3" height="16.5" fill="#26a69a"/>
<rect x="707.00" y="226.5" width="3" height="37.3" fill="#26a69a"/>
<rect x="710.00" y="214.0" width="3" height="12.9" fill="#26a69a"/>
<rect x="713.00" y="163.8" width="3" height="50.6" fill="#26a69a"/>
<rect x="716.00" y="163.8" width="3" height="53.8" fill="#ef5350"/>
<rect x="719.00" y="188.7" width="3" height="28.9" fill="#26a69a"/>
<rect x="722.00" y="162.1" width="3" height="26.6" fill="#26a69a"/>
<rect x="725.00" y="162.1" width="3" height="8.4" fill="#ef5350"/>
<rect x="728.00" y="170.1" width="3" height="75.6" fill="#ef5350"/>
<rect x="731.00" y="245.0" width="3" height="14.8" fill="#ef5350"/>
<rect x="734.00" y="227.5" width="3" height="32.3" fill="#26a69a"/>
<rect x="737.00" y="154.9" width="3" height="72.6" fill="#26a69a"/>
<rect x="740.00" y="154.9" width="3" height="44.3" fill="#ef5350"/>
<rect x="743.00" y="175.0" width="3" height="24.2" fill="#26a69a"/>
<rect x="746.00" y="175.0" width="3" height="9.9" fill="#ef5350"/>
<rect x="749.00" y="184.5" width="3" height="7.1" fill="#ef5350"/>
<rect x="752.00" y="191.2" width="2" height="27.5" fill="#ef5350"/>
<rect x="754.00" y="218.2" width="3" height="32.5" fill="#ef5350"/>
<rect x="757.00" y="250.3" width="3" height="55.0" fill="#ef5350"/>
<rect x="760.00" y="304.2" width="3" height="53.2" fill="#ef5350"/>
<rect x="763.00" y="339.1" width="3" height="18.3" fill="#26a69a"/>
<rect x="766.00" y="339.1" width="3" height="16.2" fill="#ef5350"/>
<rect x="769.00" y="354.9" width="3" height="40.5" fill="#ef5350"/>
<rect x="772.00" y="395.0" width="3" height="3.8" fill="#ef5350"/>
<rect x="775.00" y="380.2" width="3" height="18.6" fill="#26a69a"/>
<rect x="778.00" y="372.2" width="3" height="8.4" fill="#26a69a"/>
<rect x="781.00" y="372.2" width="3" height="8.0" fill="#ef5350"/>
<rect x="784.00" y="379.8" width="3" height="23.0" fill="#ef5350"/>
<rect x="787.00" y="402.2" width="3" height="1.0" fill="#ef5350"/>
<rect x="790.00" y="402.8" width="3" height="34.2" fill="#ef5350"/>
<rect x="793.00" y="436.6" width="3" height="25.1" fill="#ef5350"/>
<rect x="796.00" y="426.9" width="3" height="34.8" fill="#26a69a"/>
<rect x="799.00" y="426.9" width="3" height="12.2" fill="#ef5350"/>
<rect x="802.00" y="433.8" width="3" height="18.6" fill="#ef5350"/>
<rect x="805.00" y="450.7" width="3" height="1.7" fill="#26a69a"/>
<rect x="808.00" y="441.2" width="3" height="10.1" fill="#26a69a"/>
<rect x="811.00" y="442.3" width="3" height="4.8" fill="#ef5350"/>
<rect x="814.00" y="446.5" width="2" height="1.5" fill="#ef5350"/>
<rect x="816.00" y="447.1" width="3" height="2.6" fill="#ef5350"/>
<rect x="819.00" y="448.6" width="3" height="18.4" fill="#ef5350"/>
<rect x="822.00" y="466.1" width="3" height="14.8" fill="#ef5350"/>
<rect x="825.00" y="480.3" width="3" height="29.5" fill="#ef5350"/>
<rect x="828.00" y="505.0" width="3" height="5.4" fill="#26a69a"/>
<rect x="831.00" y="459.8" width="3" height="46.2" fill="#26a69a"/>
<rect x="834.00" y="458.1" width="3" height="22.8" fill="#ef5350"/>
<rect x="837.00" y="461.3" width="3" height="19.6" fill="#26a69a"/>
<rect x="840.00" y="461.3" width="3" height="17.9" fill="#ef5350"/>
<rect x="843.00" y="478.8" width="3" height="21.5" fill="#ef5350"/>
<rect x="846.00" y="498.2" width="3" height="2.5" fill="#ef5350"/>
<rect x="849.00" y="497.2" width="3" height="3.5" fill="#26a69a"/>
<rect x="852.00" y="477.1" width="3" height="20.7" fill="#26a69a"/>
<rect x="855.00" y="462.3" width="3" height="15.2" fill="#26a69a"/>
<rect x="858.00" y="462.3" width="3" height="8.9" fill="#ef5350"/>
<rect x="861.00" y="470.3" width="3" height="4.7" fill="#ef5350"/>
<rect x="864.00" y="456.4" width="3" height="18.6" fill="#26a69a"/>
<rect x="867.00" y="449.2" width="3" height="7.8" fill="#26a69a"/>
<rect x="870.00" y="385.2" width="3" height="64.9" fill="#26a69a"/>
<rect x="873.00" y="385.2" width="3" height="28.9" fill="#ef5350"/>
<rect x="876.00" y="370.2" width="3" height="43.9" fill="#26a69a"/>
<rect x="879.00" y="369.2" width="2" height="21.1" fill="#ef5350"/>
<rect x="881.00" y="305.4" width="3" height="84.9" fill="#26a69a"/>
<rect x="884.00" y="298.7" width="3" height="7.2" fill="#26a69a"/>
<rect x="887.00" y="300.2" width="3" height="6.3" fill="#ef5350"/>
<rect x="890.00" y="288.1" width="3" height="18.4" fill="#26a69a"/>
<rect x="893.00" y="286.4" width="3" height="11.0" fill="#ef5350"/>
<rect x="896.00" y="297.0" width="3" height="71.3" fill="#ef5350"/>
<rect x="899.00" y="367.7" width="3" height="11.2" fill="#ef5350"/>
<rect x="902.00" y="366.2" width="3" height="12.7" fill="#26a69a"/>
<rect x="905.00" y="358.2" width="3" height="8.4" fill="#26a69a"/>
<rect x="908.00" y="352.3" width="3" height="6.3" fill="#26a69a"/>
<rect x="911.00" y="352.3" width="3" height="12.2" fill="#ef5350"/>
<rect x="914.00" y="361.4" width="3" height="3.1" fill="#ef5350"/>
<rect x="917.00" y="363.5" width="3" height="24.3" fill="#ef5350"/>
<rect x="920.00" y="384.6" width="3" height="5.3" fill="#ef5350"/>
<rect x="923.00" y="382.5" width="3" height="7.4" fill="#26a69a"/>
<rect x="926.00" y="382.5" width="3" height="24.3" fill="#ef5350"/>
<rect x="929.00" y="405.3" width="3" height="1.5" fill="#26a69a"/>
<rect x="932.00" y="405.3" width="3" height="1.0" fill="#26a69a"/>
<rect x="935.00" y="405.3" width="3" height="7.8" fill="#ef5350"/>
<rect x="938.00" y="412.0" width="3" height="1.1" fill="#26a69a"/>
<rect x="941.00" y="374.0" width="2" height="39.1" fill="#26a69a"/>
<rect x="943.00" y="374.0" width="3" height="4.3" fill="#ef5350"/>
<rect x="946.00" y="377.2" width="3" height="11.6" fill="#ef5350"/>
<rect x="949.00" y="368.1" width="3" height="20.7" fill="#26a69a"/>
<rect x="952.00" y="368.1" width="3" height="9.5" fill="#ef5350"/>
<rect x="955.00" y="377.2" width="3" height="8.4" fill="#ef5350"/>
<rect x="958.00" y="368.8" width="3" height="16.8" fill="#26a69a"/>
<rect x="961.00" y="368.8" width="3" height="23.2" fill="#ef5350"/>
<rect x="964.00" y="371.3" width="3" height="20.7" fill="#26a69a"/>
<rect x="967.00" y="371.3" width="3" height="13.3" fill="#ef5350"/>
<rect x="970.00" y="347.0" width="3" height="37.6" fill="#26a69a"/>
<rect x="973.00" y="347.0" width="3" height="7.0" fill="#ef5350"/>
<rect x="976.00" y="353.6" width="3" height="18.3" fill="#ef5350"/>
<rect x="979.00" y="359.3" width="3" height="12.6" fill="#26a69a"/>
<rect x="982.00" y="359.3" width="3" height="4.2" fill="#ef5350"/>
<rect x="985.00" y="325.1" width="3" height="38.4" fill="#26a69a"/>
<rect x="988.00" y="325.1" width="3" height="7.4" fill="#ef5350"/>
<rect x="991.00" y="314.3" width="3" height="18.2" fill="#26a69a"/>
<rect x="994.00" y="288.1" width="3" height="26.8" fill="#26a69a"/>
<rect x="997.00" y="284.9" width="3" height="20.5" fill="#ef5350"/>
<rect x="1000.00" y="305.0" width="3" height="23.7" fill="#ef5350"/>
<rect x="1003.00" y="328.2" width="2" height="6.4" fill="#ef5350"/>
<rect x="1005.00" y="333.9" width="3" height="10.6" fill="#ef5350"/>
<rect x="1008.00" y="331.4" width="3" height="13.1" fill="#26a69a"/>
<rect x="1011.00" y="313.9" width="3" height="17.9" fill="#26a69a"/>
<rect x="1014.00" y="291.1" width="3" height="16.4" fill="#26a69a"/>
<rect x="1017.00" y="291.1" width="3" height="9.1" fill="#ef5350"/>
<rect x="1020.00" y="299.5" width="3" height="7.0" fill="#ef5350"/>
<rect x="1023.00" y="305.4" width="3" height="12.3" fill="#ef5350"/>
<rect x="1026.00" y="317.0" width="3" height="15.2" fill="#ef5350"/>
<rect x="1029.00" y="331.2" width="3" height="16.9" fill="#ef5350"/>
<rect x="1032.00" y="324.4" width="3" height="23.7" fill="#26a69a"/>
<rect x="1035.00" y="313.5" width="3" height="11.4" fill="#26a69a"/>
<rect x="1038.00" y="310.2" width="3" height="21.0" fill="#ef5350"/>
<rect x="1041.00" y="330.8" width="3" height="12.6" fill="#ef5350"/>
<rect x="1044.00" y="342.4" width="3" height="11.2" fill="#ef5350"/>
<rect x="1047.00" y="352.9" width="3" height="20.5" fill="#ef5350"/>
<rect x="1050.00" y="372.6" width="3" height="20.4" fill="#ef5350"/>
<rect x="1053.00" y="392.0" width="3" height="1.0" fill="#26a69a"/>
<rect x="1056.00" y="391.6" width="3" height="14.1" fill="#ef5350"/>
<rect x="1059.00" y="397.9" width="3" height="7.8" fill="#26a69a"/>
<rect x="1062.00" y="386.1" width="3" height="12.2" fill="#26a69a"/>
<rect x="1065.00" y="384.0" width="3" height="2.1" fill="#26a69a"/>
<rect x="1068.00" y="381.0" width="2" height="3.6" fill="#26a69a"/>
<rect x="1070.00" y="381.0" width="3" height="31.7" fill="#ef5350"/>
<rect x="1073.00" y="385.2" width="3" height="27.5" fill="#26a69a"/>
<rect x="1076.00" y="385.2" width="3" height="23.2" fill="#ef5350"/>
<rect x="1079.00" y="400.4" width="3" height="8.0" fill="#26a69a"/>
<rect x="1082.00" y="400.4" width="3" height="2.1" fill="#ef5350"/>
<rect x="1085.00" y="402.1" width="3" height="41.1" fill="#ef5350"/>
<rect x="1088.00" y="443.2" width="3" height="22.1" fill="#ef5350"/>
<rect x="1091.00" y="464.9" width="3" height="1.0" fill="#26a69a"/>
<rect x="1094.00" y="464.9" width="3" height="22.6" fill="#ef5350"/>
<rect x="1097.00" y="470.0" width="3" height="17.5" fill="#26a69a"/>
<rect x="1100.00" y="470.0" width="3" height="15.4" fill="#ef5350"/>
<rect x="1103.00" y="485.0" width="3" height="8.2" fill="#ef5350"/>
<rect x="1106.00" y="492.8" width="3" height="27.4" fill="#ef5350"/>
<rect x="1109.00" y="495.3" width="3" height="25.3" fill="#26a69a"/>
<rect x="1112.00" y="461.7" width="3" height="34.2" fill="#26a69a"/>
<rect x="1115.00" y="461.7" width="3" height="6.8" fill="#ef5350"/>
<rect x="1118.00" y="467.9" width="3" height="17.5" fill="#ef5350"/>
<rect x="1121.00" y="477.4" width="3" height="8.0" fill="#26a69a"/>
<rect x="1124.00" y="480.1" width="3" height="22.6" fill="#ef5350"/>
<rect x="1127.00" y="502.3" width="3" height="5.7" fill="#ef5350"/>
<rect x="1130.00" y="507.5" width="2" height="38.0" fill="#ef5350"/>
<rect x="1132.00" y="539.2" width="3" height="6.3" fill="#26a69a"/>
<rect x="1135.00" y="539.2" width="3" height="7.4" fill="#ef5350"/>
<rect x="1138.00" y="545.5" width="3" height="5.3" fill="#ef5350"/>
<rect x="1141.00" y="550.8" width="3" height="7.8" fill="#ef5350"/>
<rect x="1144.00" y="557.8" width="3" height="2.9" fill="#ef5350"/>
<rect x="1147.00" y="533.9" width="3" height="27.5" fill="#26a69a"/>
<rect x="1150.00" y="533.9" width="3" height="19.5" fill="#ef5350"/>
<rect x="1153.00" y="552.9" width="3" height="12.7" fill="#ef5350"/>
<rect x="1156.00" y="565.0" width="3" height="5.9" fill="#ef5350"/>
<rect x="1159.00" y="570.4" width="3" height="23.3" fill="#ef5350"/>
<rect x="1162.00" y="593.0" width="3" height="8.5" fill="#ef5350"/>
<rect x="1165.00" y="600.8" width="3" height="3.4" fill="#ef5350"/></g>
<line x1="566" y1="618" x2="1454" y2="618" stroke="#0c0e15" stroke-width="2" stroke-dasharray="10 12"/>
</svg>
<div id="frame"></div>
<div id="vax"></div><div id="hax"></div>
<div class="yl" style="left:32.6px">1993</div>
<div class="yl" style="left:138.9px">1996</div>
<div class="yl" style="left:245.2px">1999</div>
<div class="yl" style="left:351.5px">2002</div>
<div class="yl" style="left:457.8px">2005</div>
<div class="yl" style="left:564.1px">2008</div>
<div class="yl" style="left:670.4px">2011</div>
<div class="yl" style="left:776.7px">2014</div>
<div class="yl" style="left:883.0px">2017</div>
<div class="yl" style="left:989.3px">2020</div>
<div class="yl" style="left:1095.6px">2023</div>
<div class="yl" style="left:1201.9px">2026</div>
<div class="yl" style="left:1308.2px">2029</div>
<div class="yl" style="left:1414.5px">2032</div>

<div class="lab" id="sym" style="left:1228px;top:596px;width:225px;height:17px;background:#ef5350;border-radius:2px;"><span style="position:absolute;left:5px;top:2px;font-weight:bold;letter-spacing:-0.2px"><span style="letter-spacing:1.1px">1/(</span><span style="display:inline-block;transform:scaleX(0.977);transform-origin:left center">USDJPY+AUDJPY+GBPJPY+EURJPY)/4</span></span></div>
<div class="lab" style="left:1455px;top:596px;width:42px;height:30px;background:#ef5350;border-radius:0 2px 2px 0;"><span style="position:absolute;left:7px;top:2.5px;font-weight:bold;font-size:12px">0.000</span><span style="position:absolute;left:7px;top:16.5px;font-size:12px;color:#fbdcdc">8d 7h</span></div>
<div class="lab" style="left:1455px;top:628px;width:42px;height:16px;background:#131722;border-radius:0 2px 2px 0;"><span style="position:absolute;left:7px;top:1.5px;font-weight:bold;font-size:12px">0.000</span></div>
<svg style="position:absolute;left:10px;top:834px" width="20" height="10" viewBox="0 0 36 18"><path d="M14 18H7V7H0V0h14v18zM28 18H20l7.5-18h8L28 18z" fill="#131722"/><circle cx="20" cy="3.5" r="3.5" fill="#131722"/></svg>
<div id="tv">TradingView</div>
<svg id="wm" style="position:absolute;left:0;top:0" width="1516" height="857" viewBox="0 0 1516 857">
<defs><filter id="bt" x="-5%" y="-5%" width="110%" height="110%"><feGaussianBlur stdDeviation="0.4"/></filter><filter id="bl" x="-5%" y="-5%" width="110%" height="110%"><feGaussianBlur stdDeviation="0.8"/></filter></defs>
<g fill="#fff" opacity="0.72"><rect x="1276.6" y="793" width="50.4" height="3" /><rect x="1376.8" y="793" width="8.2" height="3" /><rect x="1393" y="793" width="6.8" height="3" /><rect x="1402" y="793" width="7.9" height="3" /><rect x="1411.4" y="793" width="8.0" height="3" /><rect x="1425.2" y="793" width="8.4" height="3" /><rect x="1436.2" y="793" width="10.1" height="3" /><rect x="1457.9" y="793" width="9.1" height="3" /><rect x="1477" y="793" width="28.5" height="3" /><rect x="1313" y="801" width="8.6" height="13"/><polygon points="1419,801 1434,801 1430,814 1416,814"/><polygon points="1436.5,801 1445.5,801 1442,814 1433,814"/><rect x="1452.5" y="797.5" width="4" height="7.5"/><rect x="1452.5" y="807.5" width="4" height="9.5"/></g>
<g fill="none" stroke="#62646d" stroke-width="2.1" stroke-linecap="round" stroke-linejoin="round" filter="url(#bl)" transform="translate(0.4,0.4)">
<path d="M1291.3,766.6 L1291.7,772.4"/><path d="M1281.9,780 L1292.4,780 L1293.4,776.3 L1304,775.6 L1305.2,774.2 L1331.4,774.2 Q1333,772 1334.1,768"/><path d="M1285.6,781.4 L1286.8,788.7 L1289.7,791.6"/><path d="M1299.2,792.8 L1302.9,783.4 L1318.8,783.4"/><path d="M1334.1,768 L1326.9,794.4 L1324.4,804.3 L1322,810.3 Q1320,817.3 1315,818.5 L1286.8,818.6"/><path d="M1278.6,796.9 L1287.6,798.1"/><path d="M1288.4,799.4 L1281.9,813.3 Q1279,817.5 1276,818 L1268.8,818.3"/><path d="M1294.5,810.9 L1297.1,800.8 L1314.5,800.8"/><path d="M1342.4,772.9 L1380.9,772.9"/><path d="M1349.5,776.5 L1346.4,785.5"/><path d="M1339,796.1 L1375.5,796.1"/><path d="M1392.4,766 L1385,795 L1381.7,808.5 L1380,814 Q1378.3,819 1374,819.5 L1358,819.7"/><path d="M1338.4,809.3 L1371,809.3 L1373.5,801.8"/><path d="M1416.7,774.5 L1405.6,774.5 L1399,800.5 Q1397.5,805 1391,806.2"/><path d="M1416.2,775.5 L1408.3,801"/><path d="M1427.8,766 L1417.8,801 L1417.2,804"/><path d="M1417.8,805.5 L1409.3,805.5"/><path d="M1402,811.4 Q1399,816 1395.6,817.7 L1388.2,819.3"/><path d="M1414.6,812.4 L1413.5,817.7 L1405,818.8"/><path d="M1425.7,778 L1440.5,778"/><path d="M1440,780.3 L1431,801 L1425.7,811.4 Q1423,816.5 1420,818 L1415,818.8"/><path d="M1454.7,768 L1452.6,777 L1450.5,778.3 L1444.7,801 L1443.6,806.1 L1441.5,814.6 Q1440,818 1437,818.7 L1428.9,818.8"/><path d="M1479.8,766.6 L1466.6,780.8"/><path d="M1481.9,778.2 L1465,797.7"/><path d="M1457.1,789.8 L1462.4,788.2"/><path d="M1484.5,772.9 L1499.9,772.9"/><path d="M1514.6,766 L1513,771.3 L1502,781.3 L1505,784.5 L1509.9,785.6"/><path d="M1478.2,792.4 L1488.8,791.9 L1494,788.2 L1497.2,791.4 L1506.7,792.4 L1509.9,786.1"/><path d="M1455.5,805.8 L1473,805.8 L1474.5,799.2"/><path d="M1475,801.8 L1484.5,801.8"/><path d="M1492.5,809.8 L1494,801.6 L1505.7,801.4 L1506.7,795.5"/><path d="M1450.2,818.5 L1499.3,818.5 Q1502,816 1502.8,811.9"/><path d="M1470.8,812.4 L1469.2,817.7"/>
<g stroke="#8f9199" stroke-width="1.5"><path d="M1313.5,785.4 L1316.7,792.8"/><path d="M1309.8,801.9 L1312.4,810.9"/></g>
<g stroke="#c9cad0"><path d="M1408.3,801 L1410.4,808.7 L1413.5,817.7"/><path d="M1506.7,793 L1505,801"/></g>
</g>
<g fill="none" stroke="#fff" stroke-width="1.7" stroke-linecap="butt" stroke-linejoin="round" transform="translate(-1.35,-1.45)">
<path d="M1291.3,766.6 L1291.7,772.4"/><path d="M1281.9,780 L1292.4,780 L1293.4,776.3 L1304,775.6 L1305.2,774.2 L1331.4,774.2 Q1333,772 1334.1,768"/><path d="M1285.6,781.4 L1286.8,788.7 L1289.7,791.6"/><path d="M1299.2,792.8 L1302.9,783.4 L1318.8,783.4"/><path d="M1334.1,768 L1326.9,794.4 L1324.4,804.3 L1322,810.3 Q1320,817.3 1315,818.5 L1286.8,818.6"/><path d="M1278.6,796.9 L1287.6,798.1"/><path d="M1288.4,799.4 L1281.9,813.3 Q1279,817.5 1276,818 L1268.8,818.3"/><path d="M1294.5,810.9 L1297.1,800.8 L1314.5,800.8"/><path d="M1342.4,772.9 L1380.9,772.9"/><path d="M1349.5,776.5 L1346.4,785.5"/><path d="M1392.4,766 L1385,795 L1381.7,808.5 L1380,814 Q1378.3,819 1374,819.5 L1358,819.7"/><path d="M1338.4,809.3 L1371,809.3 L1373.5,801.8"/><path d="M1416.7,774.5 L1405.6,774.5 L1399,800.5 Q1397.5,805 1391,806.2"/><path d="M1416.2,775.5 L1408.3,801"/><path d="M1427.8,766 L1417.8,801 L1417.2,804"/><path d="M1417.8,805.5 L1409.3,805.5"/><path d="M1402,811.4 Q1399,816 1395.6,817.7 L1388.2,819.3"/><path d="M1414.6,812.4 L1413.5,817.7 L1405,818.8"/><path d="M1425.7,778 L1440.5,778"/><path d="M1440,780.3 L1431,801 L1425.7,811.4 Q1423,816.5 1420,818 L1415,818.8"/><path d="M1454.7,768 L1452.6,777 L1450.5,778.3 L1444.7,801 L1443.6,806.1 L1441.5,814.6 Q1440,818 1437,818.7 L1428.9,818.8"/><path d="M1479.8,766.6 L1466.6,780.8"/><path d="M1481.9,778.2 L1465,797.7"/><path d="M1457.1,789.8 L1462.4,788.2"/><path d="M1484.5,772.9 L1499.9,772.9"/><path d="M1514.6,766 L1513,771.3 L1502,781.3 L1505,784.5 L1509.9,785.6"/><path d="M1478.2,792.4 L1488.8,791.9 L1494,788.2 L1497.2,791.4 L1506.7,792.4 L1509.9,786.1"/><path d="M1455.5,805.8 L1473,805.8 L1474.5,799.2"/><path d="M1475,801.8 L1484.5,801.8"/><path d="M1492.5,809.8 L1494,801.6 L1505.7,801.4 L1506.7,795.5"/><path d="M1450.2,818.5 L1499.3,818.5 Q1502,816 1502.8,811.9"/><path d="M1470.8,812.4 L1469.2,817.7"/>
</g>
<g font-family="Liberation Sans, sans-serif" font-weight="bold" font-style="italic" font-size="26px" stroke-width="2.8" stroke-linejoin="miter" filter="url(#bt)">
<text transform="translate(1284.2,851.3) scale(1.14,1.05)" fill="#9a9ca8" stroke="#9a9ca8">z</text><text transform="translate(1310.9,851.3) scale(1.14,1.05)" fill="#9a9ca8" stroke="#9a9ca8">z</text><text transform="translate(1339.3,851.3) scale(1.14,1.05)" fill="#9a9ca8" stroke="#9a9ca8">r</text><text transform="translate(1363.1,851.3) scale(1.14,1.05)" fill="#9a9ca8" stroke="#9a9ca8">t</text><text transform="translate(1383.1,851.3) scale(1.14,1.05)" fill="#9a9ca8" stroke="#9a9ca8">0</text><text transform="translate(1418.0,851.3) scale(1.14,1.05)" fill="#9a9ca8" stroke="#9a9ca8">1</text><text transform="translate(1441.5,851.3) scale(1.14,1.05)" fill="#9a9ca8" stroke="#9a9ca8">.</text><text transform="translate(1461.0,851.3) scale(1.14,1.05)" fill="#9a9ca8" stroke="#9a9ca8">c</text><text transform="translate(1486.2,851.3) scale(1.14,1.05)" fill="#9a9ca8" stroke="#9a9ca8">n</text>
<text transform="translate(1282.9,850.0) scale(1.14,1.05)" fill="#b3b5bc" stroke="#b3b5bc">z</text><text transform="translate(1309.6,850.0) scale(1.14,1.05)" fill="#b3b5bc" stroke="#b3b5bc">z</text><text transform="translate(1338.0,850.0) scale(1.14,1.05)" fill="#b3b5bc" stroke="#b3b5bc">r</text><text transform="translate(1361.8,850.0) scale(1.14,1.05)" fill="#b3b5bc" stroke="#b3b5bc">t</text><text transform="translate(1381.8,850.0) scale(1.14,1.05)" fill="#b3b5bc" stroke="#b3b5bc">0</text><text transform="translate(1416.7,850.0) scale(1.14,1.05)" fill="#b3b5bc" stroke="#b3b5bc">1</text><text transform="translate(1440.2,850.0) scale(1.14,1.05)" fill="#b3b5bc" stroke="#b3b5bc">.</text><text transform="translate(1459.7,850.0) scale(1.14,1.05)" fill="#b3b5bc" stroke="#b3b5bc">c</text><text transform="translate(1484.9,850.0) scale(1.14,1.05)" fill="#b3b5bc" stroke="#b3b5bc">n</text>
</g>
</svg>
</body></html>
